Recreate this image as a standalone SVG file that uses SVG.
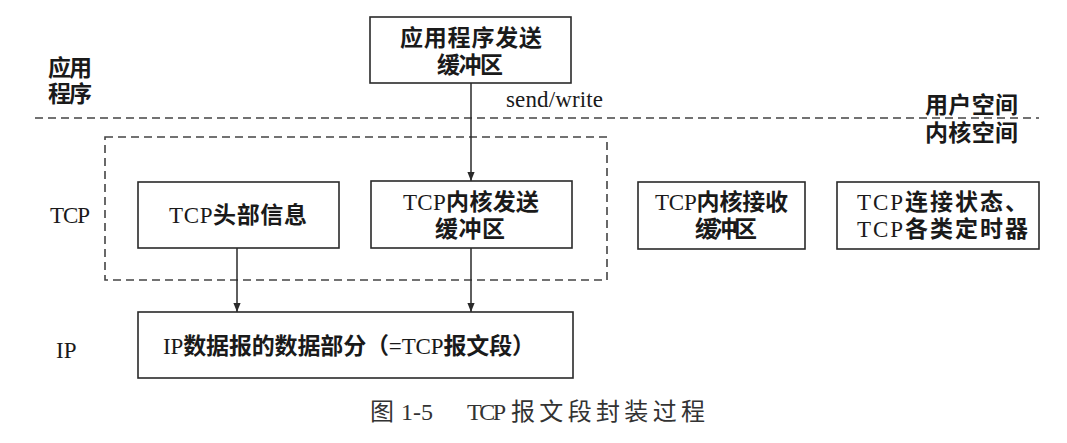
<svg xmlns="http://www.w3.org/2000/svg" width="1067" height="443" viewBox="0 0 1067 443">
<style>
.box{fill:#fff;stroke:#2a2a2a;stroke-width:1.6}
.dash{fill:none;stroke:#444;stroke-width:1.6;stroke-dasharray:8 5}
.t{font-family:"Liberation Serif","Noto Sans CJK SC",serif;font-size:23px;font-weight:bold;fill:#1a1a1a;text-anchor:middle}
.l{font-family:"Liberation Serif","Noto Sans CJK SC",serif;font-size:23px;font-weight:bold;fill:#1a1a1a}
.n{font-family:"Liberation Serif","Noto Sans CJK SC",serif;font-size:23px;font-weight:normal;fill:#1a1a1a}
.lat{font-weight:normal}
.cap{font-family:"Liberation Serif","Noto Sans CJK SC",serif;font-size:24px;fill:#333}
.conn{stroke:#2a2a2a;stroke-width:1.5;fill:none;marker-end:url(#ah)}
</style>
<defs>
<marker id="ah" viewBox="0 0 10 10" refX="10" refY="5" markerWidth="9" markerHeight="9" markerUnits="userSpaceOnUse" orient="auto">
<path d="M0,1 L10,5 L0,9 Z" fill="#2a2a2a"/>
</marker>
</defs>
<rect width="1067" height="443" fill="#fff"/>

<g id="boundaries">
<line class="dash" x1="35" y1="118" x2="1039" y2="118"/>
<rect id="tcp-group" class="dash" x="105" y="137" width="502" height="143"/>
</g>

<g id="layer-labels">
<text class="l" x="48" y="76" font-size="22" textLength="44">应用</text>
<text class="l" x="48" y="102" font-size="22" textLength="44">程序</text>
<text class="n" x="50" y="223" textLength="40">TCP</text>
<text class="n" x="56" y="358">IP</text>
<text class="l" x="925" y="113" textLength="93">用户空间</text>
<text class="l" x="925" y="141" textLength="93">内核空间</text>
</g>

<g id="app-send-buffer">
<rect class="box" x="370" y="17" width="201" height="66"/>
<text class="t" x="471" y="46" textLength="142">应用程序发送</text>
<text class="t" x="470" y="73" textLength="66">缓冲区</text>
</g>

<g id="tcp-header">
<rect class="box" x="138" y="182" width="201" height="66"/>
<text class="t" x="238" y="223" textLength="138"><tspan class="lat">TCP</tspan>头部信息</text>
</g>

<g id="tcp-send-buffer">
<rect class="box" x="371" y="181" width="201" height="67"/>
<text class="t" x="471" y="210" textLength="136"><tspan class="lat">TCP</tspan>内核发送</text>
<text class="t" x="470" y="237" textLength="70">缓冲区</text>
</g>

<g id="tcp-recv-buffer">
<rect class="box" x="638" y="182" width="167" height="67"/>
<text class="t" x="721.5" y="210" textLength="133"><tspan class="lat">TCP</tspan>内核接收</text>
<text class="t" x="726" y="237" textLength="62">缓冲区</text>
</g>

<g id="tcp-state">
<rect class="box" x="837" y="182" width="202" height="67"/>
<text class="l" x="857" y="210" textLength="171"><tspan class="lat">TCP</tspan>连接状态、</text>
<text class="l" x="857" y="237" textLength="171"><tspan class="lat">TCP</tspan>各类定时器</text>
</g>

<g id="ip-data">
<rect class="box" x="138" y="312" width="435" height="66"/>
<text class="l" x="163" y="354" font-size="22" textLength="372"><tspan class="lat">IP</tspan>数据报的数据部分（<tspan class="lat">=TCP</tspan>报文段）</text>
</g>

<g id="connectors">
<path class="conn" d="M471,83 L471,181"/>
<path class="conn" d="M237,248 L237,312"/>
<path class="conn" d="M471,248 L471,312"/>
<text class="n" x="506" y="107" font-size="22" textLength="97">send/write</text>
</g>

<g id="caption">
<text class="cap" x="370" y="420">图</text>
<text class="cap" x="401" y="420" textLength="32">1-5</text>
<text class="cap" x="467" y="420" textLength="39">TCP</text>
<text class="cap" x="511" y="420" textLength="194">报文段封装过程</text>
</g>
</svg>
